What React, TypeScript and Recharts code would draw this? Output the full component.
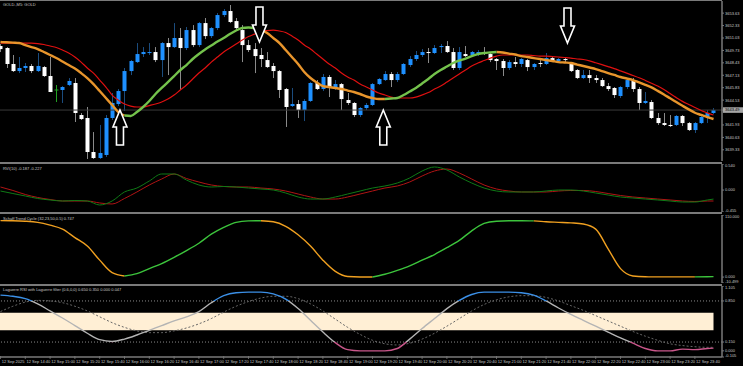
import React from "react";
import {
  ComposedChart,
  Bar,
  Line,
  XAxis,
  YAxis,
  ReferenceLine,
  ReferenceArea,
  ReferenceDot,
} from "recharts";

// GOLD M5, 12 Sep, bars 14:20 .. 23:55 (116 bars)
const opens = [
  3650.19, 3649.98, 3648.31, 3647.57, 3647.89, 3648.10, 3647.57, 3647.99, 3647.05, 3645.59,
  3645.59, 3646.11, 3646.32, 3642.97, 3642.66, 3639.10, 3638.47, 3638.79, 3642.66, 3644.12,
  3645.48, 3647.57, 3648.51, 3649.35, 3649.46, 3649.56, 3648.72, 3650.50, 3650.08, 3651.03,
  3649.98, 3651.86, 3650.29, 3652.59, 3651.23, 3652.07, 3653.43, 3653.85, 3652.80, 3651.86,
  3650.29, 3649.87, 3649.25, 3648.72, 3648.10, 3647.57, 3645.69, 3643.91, 3644.12, 3643.49,
  3644.44, 3646.32, 3645.69, 3646.95, 3645.80, 3646.21, 3644.54, 3644.23, 3642.97, 3643.70,
  3644.02, 3646.21, 3646.63, 3647.26, 3646.63, 3647.26, 3648.20, 3648.83, 3649.25, 3649.56,
  3649.46, 3650.08, 3650.19, 3649.56, 3647.89, 3649.35, 3649.25, 3649.35, 3649.56, 3649.35,
  3648.83, 3648.62, 3647.89, 3648.51, 3648.31, 3648.72, 3647.99, 3648.41, 3648.31, 3648.93,
  3648.62, 3648.83, 3648.41, 3647.68, 3646.84, 3647.15, 3646.84, 3646.63, 3646.00, 3645.80,
  3644.96, 3645.90, 3646.63, 3645.69, 3644.23, 3644.33, 3642.66, 3642.13, 3641.93, 3641.93,
  3642.87, 3642.13, 3641.40, 3642.13, 3642.76, 3643.18,
];
const highs = [
  3650.40, 3650.08, 3649.25, 3649.04, 3648.41, 3648.31, 3649.46, 3648.10, 3649.04, 3646.11,
  3646.00, 3646.84, 3646.84, 3643.18, 3643.81, 3641.19, 3641.93, 3642.97, 3645.27, 3645.69,
  3647.89, 3648.72, 3650.50, 3650.08, 3650.50, 3650.08, 3650.61, 3651.03, 3652.59, 3652.07,
  3652.18, 3652.38, 3652.70, 3653.12, 3652.18, 3653.64, 3654.06, 3654.48, 3653.12, 3652.38,
  3650.82, 3650.50, 3649.98, 3649.56, 3648.41, 3647.68, 3645.80, 3645.80, 3644.54, 3644.64,
  3646.42, 3646.63, 3647.26, 3647.15, 3646.63, 3646.32, 3645.27, 3644.33, 3643.81, 3644.23,
  3646.32, 3646.84, 3647.57, 3647.47, 3647.47, 3648.41, 3649.14, 3649.67, 3649.87, 3649.98,
  3650.29, 3650.40, 3650.71, 3649.98, 3650.08, 3650.19, 3649.67, 3649.77, 3650.08, 3649.46,
  3648.93, 3648.83, 3648.72, 3649.04, 3648.93, 3648.83, 3648.41, 3648.72, 3649.46, 3649.04,
  3648.93, 3649.04, 3648.51, 3647.78, 3647.68, 3647.68, 3647.15, 3646.84, 3646.32, 3645.90,
  3646.00, 3646.84, 3646.84, 3645.90, 3645.38, 3644.54, 3643.18, 3643.18, 3642.97, 3642.97,
  3642.97, 3642.24, 3642.24, 3642.97, 3643.49, 3643.70,
];
const lows = [
  3649.56, 3647.89, 3647.47, 3647.36, 3647.47, 3647.36, 3647.47, 3646.95, 3645.38, 3644.33,
  3644.23, 3646.00, 3642.24, 3642.45, 3638.37, 3638.37, 3638.37, 3638.58, 3642.45, 3643.91,
  3643.39, 3647.15, 3648.41, 3649.04, 3649.25, 3648.51, 3646.95, 3647.15, 3649.98, 3645.59,
  3649.77, 3650.08, 3650.08, 3650.92, 3651.03, 3651.86, 3653.22, 3652.59, 3651.86, 3648.51,
  3649.56, 3647.36, 3647.99, 3647.89, 3646.84, 3644.75, 3641.72, 3643.81, 3642.66, 3642.34,
  3644.33, 3645.59, 3645.48, 3644.85, 3645.59, 3643.49, 3644.02, 3642.76, 3642.76, 3643.49,
  3643.91, 3646.11, 3646.53, 3645.90, 3646.42, 3647.15, 3647.99, 3648.62, 3649.04, 3648.41,
  3649.35, 3649.46, 3649.46, 3647.68, 3647.68, 3649.04, 3649.04, 3649.14, 3649.25, 3648.51,
  3647.68, 3647.05, 3647.68, 3647.99, 3647.99, 3647.57, 3647.68, 3647.99, 3648.20, 3648.51,
  3648.41, 3648.51, 3647.47, 3646.74, 3646.74, 3646.32, 3646.32, 3645.90, 3645.48, 3644.75,
  3644.75, 3645.69, 3645.38, 3643.49, 3644.12, 3642.55, 3641.93, 3641.82, 3641.72, 3641.82,
  3641.82, 3641.30, 3641.09, 3642.03, 3642.13, 3643.07,
];
const closes = [
  3649.87, 3648.31, 3647.57, 3647.89, 3648.10, 3647.57, 3648.10, 3647.05, 3645.38, 3645.59,
  3645.90, 3646.53, 3643.18, 3642.55, 3639.10, 3638.47, 3639.00, 3642.66, 3644.23, 3645.48,
  3647.57, 3648.62, 3649.35, 3649.56, 3649.56, 3648.72, 3650.50, 3650.08, 3651.03, 3649.98,
  3651.86, 3650.29, 3652.59, 3651.23, 3652.07, 3653.43, 3653.85, 3652.70, 3652.07, 3650.29,
  3649.77, 3649.14, 3648.83, 3647.99, 3647.57, 3645.59, 3643.81, 3644.12, 3643.49, 3644.44,
  3646.32, 3645.69, 3646.95, 3645.90, 3646.21, 3644.64, 3644.23, 3642.97, 3643.70, 3644.02,
  3646.21, 3646.74, 3647.26, 3646.63, 3647.26, 3648.31, 3648.83, 3649.25, 3649.56, 3649.46,
  3649.98, 3650.19, 3649.56, 3647.89, 3649.56, 3649.14, 3649.56, 3649.56, 3649.35, 3648.72,
  3648.62, 3647.89, 3648.51, 3648.31, 3648.83, 3647.99, 3648.31, 3648.31, 3648.93, 3648.62,
  3648.83, 3648.72, 3647.57, 3646.84, 3647.15, 3646.84, 3646.63, 3646.00, 3645.69, 3645.06,
  3645.90, 3646.63, 3645.69, 3644.23, 3644.44, 3642.66, 3642.13, 3641.93, 3641.82, 3642.87,
  3642.13, 3641.40, 3642.13, 3642.76, 3643.18, 3643.49,
];

// moving averages read per bar
const maFast = [
  3650.61, 3650.58, 3650.54, 3650.50, 3650.29, 3650.08, 3649.87, 3649.56, 3649.25, 3648.93,
  3648.57, 3648.20, 3647.83, 3647.36, 3646.84, 3646.21, 3645.48, 3644.75, 3644.02, 3643.28,
  3642.92, 3642.87, 3643.28, 3643.81, 3644.44, 3645.17, 3645.80, 3646.42, 3647.05, 3647.68,
  3648.20, 3648.83, 3649.35, 3649.82, 3650.24, 3650.66, 3651.03, 3651.44, 3651.81, 3652.07,
  3652.12, 3652.07, 3651.91, 3651.55, 3651.03, 3650.50, 3649.77, 3649.04, 3648.31, 3647.47,
  3646.84, 3646.37, 3646.00, 3645.90, 3645.80, 3645.69, 3645.53, 3645.38, 3645.17, 3644.91,
  3644.75, 3644.64, 3644.64, 3644.70, 3644.75, 3645.06, 3645.43, 3645.80, 3646.27, 3646.74,
  3647.26, 3647.68, 3648.04, 3648.41, 3648.67, 3648.88, 3649.14, 3649.35, 3649.46, 3649.51,
  3649.56, 3649.51, 3649.40, 3649.30, 3649.14, 3649.04, 3648.93, 3648.83, 3648.72, 3648.62,
  3648.51, 3648.46, 3648.41, 3648.25, 3648.10, 3647.94, 3647.78, 3647.57, 3647.36, 3647.16,
  3646.95, 3646.79, 3646.63, 3646.38, 3646.12, 3645.86, 3645.50, 3645.12, 3644.72, 3644.33,
  3643.94, 3643.56, 3643.21, 3642.98, 3642.75, 3642.55,
];
const maSlow = [
  3650.50, 3650.50, 3650.50, 3650.50, 3650.50, 3650.50, 3650.45, 3650.35, 3650.19, 3650.03,
  3649.77, 3649.46, 3649.04, 3648.51, 3647.89, 3647.36, 3646.63, 3645.90, 3645.06, 3644.54,
  3644.12, 3643.91, 3643.81, 3643.81, 3643.96, 3644.12, 3644.33, 3644.64, 3645.06, 3645.59,
  3646.11, 3646.74, 3647.36, 3647.89, 3648.51, 3649.04, 3649.56, 3649.98, 3650.40, 3650.82,
  3651.18, 3651.44, 3651.71, 3651.81, 3651.86, 3651.76, 3651.60, 3651.23, 3650.82, 3650.29,
  3649.87, 3649.35, 3648.83, 3648.31, 3647.89, 3647.36, 3646.95, 3646.63, 3646.21, 3645.90,
  3645.59, 3645.27, 3645.06, 3644.85, 3644.75, 3644.75, 3644.75, 3644.85, 3645.06, 3645.32,
  3645.69, 3646.00, 3646.42, 3646.84, 3647.26, 3647.68, 3648.10, 3648.41, 3648.67, 3648.93,
  3649.14, 3649.25, 3649.25, 3649.25, 3649.25, 3649.25, 3649.19, 3649.14, 3649.14, 3649.09,
  3649.04, 3648.99, 3648.93, 3648.83, 3648.78, 3648.64, 3648.44, 3648.24, 3648.04, 3647.83,
  3647.59, 3647.35, 3647.11, 3646.87, 3646.59, 3646.30, 3646.00, 3645.64, 3645.21, 3644.79,
  3644.40, 3644.08, 3643.76, 3643.45, 3643.20, 3642.97,
];
// bars where the fast MA is drawn green (rising)
const fastUpRanges = [
  [20, 42],
  [62, 80],
];
const dojiBars = [9];

const priceTicks = [
  3653.63, 3652.33, 3651.03, 3649.73, 3648.43, 3647.13, 3645.83, 3644.53, 3641.93, 3640.63,
  3639.33,
];
const lastPrice = 3643.49;

const arrowMarks = [
  { bar: 19.27, price: 3643.49, dir: "up" },
  { bar: 41.77, price: 3650.61, dir: "down" },
  { bar: 61.74, price: 3643.49, dir: "up" },
  { bar: 91.45, price: 3650.5, dir: "down" },
];

const timeLabels = [
  "12 Sep 2025", "12 Sep 14:40", "12 Sep 15:00", "12 Sep 15:20", "12 Sep 15:40",
  "12 Sep 16:00", "12 Sep 16:20", "12 Sep 16:40", "12 Sep 17:00", "12 Sep 17:20",
  "12 Sep 17:40", "12 Sep 18:00", "12 Sep 18:20", "12 Sep 18:40", "12 Sep 19:00",
  "12 Sep 19:20", "12 Sep 19:40", "12 Sep 20:00", "12 Sep 20:20", "12 Sep 20:40",
  "12 Sep 21:00", "12 Sep 21:20", "12 Sep 21:40", "12 Sep 22:00", "12 Sep 22:20",
  "12 Sep 22:40", "12 Sep 23:00", "12 Sep 23:20", "12 Sep 23:40",
];
const timeTickBars = timeLabels.map((_, i) => i * 4);

// indicators, read every second bar
const indBars = [
  0, 2, 4, 6, 8, 10, 12, 14, 16, 18, 20, 22, 24, 26, 28, 30, 32, 34, 36, 38,
  40, 42, 44, 46, 48, 50, 52, 54, 56, 58, 60, 62, 64, 66, 68, 70, 72, 74, 76, 78,
  80, 82, 84, 86, 88, 90, 92, 94, 96, 98, 100, 102, 104, 106, 108, 110, 112, 114, 115,
];
const rviMain = [
  -0.02, -0.072, -0.123, -0.175, -0.206, -0.227, -0.217, -0.227, -0.31, -0.227,
  -0.04, 0.042, 0.188, 0.333, 0.333, 0.208, 0.105, 0.063, 0.074, 0.063,
  0.042, 0.022, 0.001, -0.061, -0.144, -0.186, -0.186, -0.144, -0.082, -0.02,
  0.042, 0.084, 0.146, 0.25, 0.395, 0.478, 0.416, 0.271, 0.146, 0.042,
  -0.02, -0.04, -0.04, -0.04, -0.02, 0.001, 0.001, -0.02, -0.061, -0.103,
  -0.144, -0.165, -0.186, -0.206, -0.227, -0.248, -0.248, -0.206, -0.187,
];
const rviSignal = [
  0.063, -0.009, -0.092, -0.154, -0.196, -0.227, -0.227, -0.227, -0.268, -0.289,
  -0.175, -0.04, 0.105, 0.229, 0.333, 0.239, 0.167, 0.105, 0.074, 0.063,
  0.063, 0.042, 0.022, -0.02, -0.082, -0.144, -0.186, -0.186, -0.144, -0.082,
  -0.02, 0.042, 0.084, 0.167, 0.291, 0.395, 0.436, 0.353, 0.229, 0.105,
  0.022, -0.02, -0.04, -0.04, -0.04, -0.02, -0.009, -0.009, -0.03, -0.072,
  -0.113, -0.144, -0.165, -0.186, -0.206, -0.227, -0.237, -0.227, -0.227,
];
const stcValues = [
  100, 99.8, 99, 97, 92, 85, 70, 55, 30, 8,
  2, 6, 15, 24, 35, 47, 60, 76, 88, 97,
  99.5, 99.8, 98, 90, 75, 55, 30, 10, 1, 0.2,
  0.2, 5, 12, 20, 30, 40, 52, 65, 82, 95,
  99, 99.8, 99.9, 99.5, 98, 97, 96, 94, 85, 50,
  15, 2, 0.5, 0.3, 0.3, 0.3, 0.3, 0.6, 0.747,
];
const stcUpRanges = [
  [20, 42],
  [60, 86],
  [112, 115],
];
const lagRsi = [
  0.95, 0.93, 0.89, 0.8, 0.68, 0.56, 0.43, 0.3, 0.19, 0.16,
  0.2, 0.27, 0.35, 0.43, 0.51, 0.58, 0.67, 0.82, 0.94, 0.99,
  1.0, 1.0, 0.97, 0.88, 0.72, 0.52, 0.32, 0.14, 0.02, 0.0,
  0.0, 0.0, 0.04, 0.2, 0.38, 0.55, 0.72, 0.86, 0.96, 1.0,
  1.0, 1.0, 0.99, 0.95, 0.85, 0.73, 0.62, 0.52, 0.42, 0.32,
  0.22, 0.13, 0.04, 0.0, 0.0, 0.03, 0.02, 0.04, 0.047,
];
const lagFilter = [
  0.67, 0.76, 0.83, 0.86, 0.85, 0.82, 0.76, 0.68, 0.58, 0.48,
  0.4, 0.34, 0.31, 0.31, 0.34, 0.39, 0.46, 0.55, 0.66, 0.76,
  0.84, 0.9, 0.93, 0.93, 0.89, 0.8, 0.68, 0.54, 0.4, 0.28,
  0.18, 0.12, 0.1, 0.13, 0.2, 0.3, 0.42, 0.55, 0.68, 0.79,
  0.87, 0.92, 0.94, 0.94, 0.91, 0.85, 0.77, 0.69, 0.6, 0.51,
  0.42, 0.33, 0.25, 0.18, 0.12, 0.09, 0.07, 0.06, 0.06,
];

const FONT = "'Liberation Sans', Arial, sans-serif";
const TXT = "#c8c8c8";
const GRID = "#7a7a7a";
const X_DOMAIN: [number, number] = [-0.08, 116.37];

const inRanges = (i: number, ranges: number[][]) =>
  ranges.some(([a, b]) => i >= a && i <= b);
const strictlyIn = (i: number, ranges: number[][]) =>
  ranges.some(([a, b]) => i > a && i < b);

const candles = opens.map((open, i) => ({
  bar: i,
  open,
  high: highs[i],
  low: lows[i],
  close: closes[i],
  range: [lows[i], highs[i]],
  slow: maSlow[i],
  fastUp: inRanges(i, fastUpRanges) ? maFast[i] : null,
  fastDown: strictlyIn(i, fastUpRanges) ? null : maFast[i],
}));

const indData = indBars.map((bar, i) => ({
  bar,
  rvi: rviMain[i],
  sig: rviSignal[i],
  stcUp: inRanges(bar, stcUpRanges) ? stcValues[i] : null,
  stcDown: strictlyIn(bar, stcUpRanges) ? null : stcValues[i],
  lag: lagRsi[i],
  filt: lagFilter[i],
}));

function Candle(props: any) {
  const { x, y, width, height, payload } = props;
  const { open, close, high, low, bar } = payload;
  const span = high - low;
  const py = (p: number) => (span > 0 ? y + ((high - p) / span) * height : y);
  const cx = Math.round(x + width / 2) + 0.5;
  const doji = dojiBars.includes(bar);
  const up = close > open;
  const top = py(Math.max(open, close));
  const bot = py(Math.min(open, close));
  const wick = doji ? "#22a022" : up ? "#1b4c7e" : "#8a8a8a";
  return (
    <g>
      <line x1={cx} x2={cx} y1={y} y2={y + height} stroke={wick} strokeWidth={1} />
      {doji ? (
        <line x1={cx - 2} x2={cx + 2} y1={top} y2={top} stroke={wick} strokeWidth={1} />
      ) : (
        <rect
          x={cx - 2}
          y={top}
          width={4}
          height={Math.max(1, bot - top)}
          fill={up ? "#1e90ff" : "#ffffff"}
        />
      )}
    </g>
  );
}

function Arrow(props: any) {
  const { cx, cy, dir } = props;
  const s = dir === "up" ? 1 : -1;
  const pts = [
    [0, 0],
    [7, 17],
    [3.5, 17],
    [3.5, 35],
    [-3.5, 35],
    [-3.5, 17],
    [-7, 17],
  ]
    .map(([dx, dy]) => `${cx + dx},${cy + s * dy}`)
    .join(" ");
  return <polygon points={pts} fill="#000" stroke="#fff" strokeWidth={1.6} />;
}

function makeYTick(decimals: number, top: number, bottom: number, highlight?: number) {
  return (props: any) => {
    const { x, y, payload } = props;
    const v = payload.value as number;
    let dy = 1.4;
    if (v === top) dy += 1.6;
    if (v === bottom) dy -= 1.6;
    const hl = highlight !== undefined && v === highlight;
    return (
      <g>
        {hl && <rect x={x - 2} y={y - 2.8} width={20} height={5.6} fill="#a6a6a6" />}
        <text
          x={x}
          y={y + dy}
          fontSize={4}
          fontFamily={FONT}
          fill={hl ? "#000" : TXT}
          textAnchor="start"
        >
          {v.toFixed(decimals)}
        </text>
      </g>
    );
  };
}

function TimeTick(props: any) {
  const { x, y, index } = props;
  return (
    <g>
      <line x1={x} x2={x} y1={y - 1} y2={y + 2} stroke={GRID} strokeWidth={0.8} />
      <text x={x + 1.2} y={y + 5.5} fontSize={4} fontFamily={FONT} fill={TXT}>
        {timeLabels[index]}
      </text>
    </g>
  );
}

const Title = ({ top, text }: { top: number; text: string }) => (
  <div
    style={{
      position: "absolute",
      left: 3,
      top,
      fontSize: 4,
      lineHeight: "5px",
      fontFamily: FONT,
      color: TXT,
      whiteSpace: "nowrap",
    }}
  >
    {text}
  </div>
);

const Sep = ({ top, h = 2 }: { top: number; h?: number }) => (
  <div
    style={{ position: "absolute", left: 0, top, width: 722, height: h, background: GRID }}
  />
);

const yAxisProps = {
  orientation: "right" as const,
  width: 21,
  tickSize: 2,
  tickMargin: 1,
  interval: 0 as const,
  allowDataOverflow: true,
  axisLine: { stroke: GRID, strokeWidth: 1.5 },
  tickLine: { stroke: GRID },
};

export default function App() {
  const margin = { top: 0, right: 0, bottom: 0, left: 0 };
  return (
    <div
      style={{
        position: "absolute",
        left: 0,
        top: 0,
        width: 743,
        height: 366,
        background: "#000",
        overflow: "hidden",
      }}
    >
      {/* price window */}
      <div style={{ position: "absolute", left: 0, top: 1 }}>
        <ComposedChart width={743} height={160} data={candles} margin={margin}>
          <XAxis
            type="number"
            dataKey="bar"
            domain={X_DOMAIN}
            allowDataOverflow
            hide
          />
          <YAxis
            {...yAxisProps}
            type="number"
            domain={[3638.16, 3654.9]}
            ticks={[...priceTicks, lastPrice]}
            tick={makeYTick(2, -1, -1, lastPrice)}
          />
          <ReferenceLine y={lastPrice} stroke="#3a3a3a" strokeWidth={1} />
          <Bar
            dataKey="range"
            barSize={4}
            shape={(p: any) => <Candle {...p} />}
            isAnimationActive={false}
          />
          <Line
            type="monotone"
            dataKey="slow"
            stroke="#e01010"
            strokeWidth={1.2}
            dot={false}
            isAnimationActive={false}
          />
          <Line
            type="monotone"
            dataKey="fastDown"
            stroke="#e8952c"
            strokeWidth={2.4}
            dot={false}
            isAnimationActive={false}
          />
          <Line
            type="monotone"
            dataKey="fastUp"
            stroke="#74c24c"
            strokeWidth={2.4}
            dot={false}
            isAnimationActive={false}
          />
          {arrowMarks.map((a, i) => (
            <ReferenceDot
              key={i}
              x={a.bar}
              y={a.price}
              r={1}
              ifOverflow="visible"
              shape={(p: any) => <Arrow {...p} dir={a.dir} />}
            />
          ))}
        </ComposedChart>
      </div>

      {/* RVI */}
      <div style={{ position: "absolute", left: 0, top: 164 }}>
        <ComposedChart width={743} height={48} data={indData} margin={margin}>
          <XAxis type="number" dataKey="bar" domain={X_DOMAIN} allowDataOverflow hide />
          <YAxis
            {...yAxisProps}
            type="number"
            domain={[-0.455, 0.54]}
            ticks={[0.54, 0, -0.455]}
            tick={makeYTick(3, 0.54, -0.455)}
          />
          <Line type="monotone" dataKey="sig" stroke="#b01414" strokeWidth={1} dot={false} isAnimationActive={false} />
          <Line type="monotone" dataKey="rvi" stroke="#0f7a16" strokeWidth={1} dot={false} isAnimationActive={false} />
        </ComposedChart>
      </div>

      {/* Schaff Trend Cycle */}
      <div style={{ position: "absolute", left: 0, top: 215 }}>
        <ComposedChart width={743} height={68} data={indData} margin={margin}>
          <XAxis type="number" dataKey="bar" domain={X_DOMAIN} allowDataOverflow hide />
          <YAxis
            {...yAxisProps}
            type="number"
            domain={[-10.499, 110]}
            ticks={[110, 0, -10.499]}
            tick={makeYTick(3, 110, -10.499)}
          />
          <Line type="monotone" dataKey="stcDown" stroke="#f0a020" strokeWidth={1.4} dot={false} isAnimationActive={false} />
          <Line type="monotone" dataKey="stcUp" stroke="#3cc43c" strokeWidth={1.4} dot={false} isAnimationActive={false} />
        </ComposedChart>
      </div>

      {/* Laguerre RSI */}
      <div style={{ position: "absolute", left: 0, top: 286 }}>
        <ComposedChart width={743} height={80} data={indData} margin={margin}>
          <defs>
            <linearGradient id="lagStroke" gradientUnits="userSpaceOnUse" x1="0" y1="0" x2="0" y2="71">
              <stop offset="0.21" stopColor="#3b8fe6" />
              <stop offset="0.21" stopColor="#b4b4b4" />
              <stop offset="0.79" stopColor="#b4b4b4" />
              <stop offset="0.79" stopColor="#c8568a" />
            </linearGradient>
          </defs>
          <XAxis
            type="number"
            dataKey="bar"
            domain={X_DOMAIN}
            allowDataOverflow
            height={9}
            ticks={timeTickBars}
            interval={0}
            tickLine={false}
            tickSize={0}
            tickMargin={0}
            axisLine={{ stroke: GRID, strokeWidth: 1.5 }}
            tick={(p: any) => <TimeTick {...p} />}
          />
          <YAxis
            {...yAxisProps}
            type="number"
            domain={[-0.105, 1.105]}
            ticks={[1.105, 0.85, 0.15, 0, -0.105]}
            tick={makeYTick(3, 1.105, -0.105)}
          />
          <ReferenceArea x1={-0.08} x2={115} y1={0.35} y2={0.65} fill="#ffefd5" fillOpacity={1} stroke="none" />
          <ReferenceLine y={0.85} stroke="#8a8a8a" strokeDasharray="1 2" />
          <ReferenceLine y={0.15} stroke="#8a8a8a" strokeDasharray="1 2" />
          <Line type="monotone" dataKey="filt" stroke="#666" strokeWidth={1} strokeDasharray="2 2" dot={false} isAnimationActive={false} />
          <Line type="monotone" dataKey="lag" stroke="url(#lagStroke)" strokeWidth={1.4} dot={false} isAnimationActive={false} />
        </ComposedChart>
      </div>

      <Sep top={0} h={1} />
      <Sep top={162} />
      <Sep top={212} />
      <Sep top={284} />

      <Title top={2} text="GOLD.,M5:  GOLD" />
      <Title top={166} text="RVI(10) -0.187 -0.227" />
      <Title top={216} text="Schaff Trend Cycle (32,23,50,0.5) 0.747" />
      <Title top={287} text="Laguerre RSI with Laguerre filter (0.6,0,0) 0.650 0.350 0.000 0.047" />
    </div>
  );
}
